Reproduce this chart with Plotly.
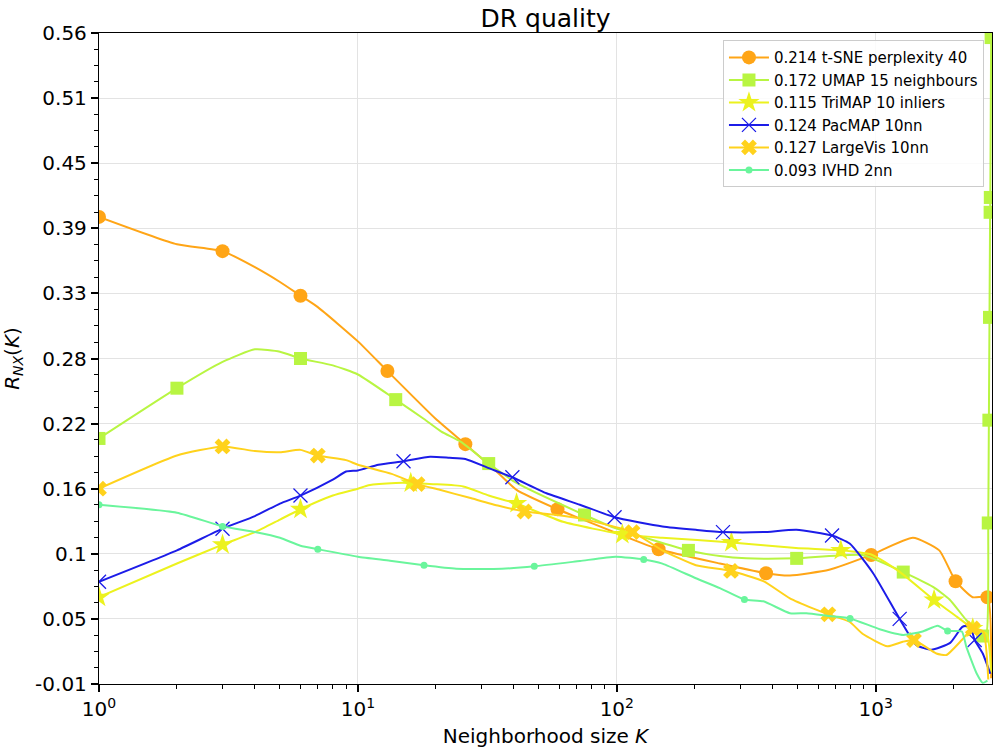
import numpy as np
import plotly.graph_objects as go

# neighbourhood sizes K and R_NX(K), one set per method
tsne_k = [1, 2, 3, 4, 5, 6, 7, 10, 13, 20, 26, 34, 41, 59, 72, 100, 145, 250, 377, 466, 661, 960, 1392, 1759, 2034, 2366, 2700, 2790]
tsne_r = [0.399, 0.375, 0.369, 0.355, 0.342, 0.330, 0.320, 0.290, 0.264, 0.222, 0.200, 0.177, 0.160, 0.143, 0.135, 0.122, 0.108, 0.0955, 0.087, 0.085, 0.090, 0.103, 0.118, 0.107, 0.080, 0.066, 0.066, -0.005]
tsne_marks = [0, 2, 5, 8, 10, 13, 16, 18, 21, 24, 26]

umap_k = [1, 2, 3, 4, 5, 6, 8, 10, 14, 18, 21, 25, 32, 41, 75, 100, 189, 250, 316, 495, 890, 1277, 1664, 1928, 2237, 2589, 2680, 2720, 2735, 2750, 2765, 2770, 2790, 2800]
umap_r = [0.205, 0.249, 0.272, 0.283, 0.281, 0.275, 0.269, 0.261, 0.239, 0.222, 0.211, 0.202, 0.183, 0.166, 0.138, 0.126, 0.107, 0.102, 0.100, 0.100, 0.103, 0.088, 0.075, 0.064, 0.046, 0.032, 0.035, 0.131, 0.221, 0.311, 0.403, 0.416, 0.556, 0.62]
umap_marks = [0, 1, 5, 8, 12, 14, 16, 19, 21, 25, 27, 28, 29, 30, 31, 32]

trimap_k = [1, 2, 3, 4, 5, 6, 8, 10, 11, 14, 16, 19.5, 25.5, 32, 41, 62, 105, 150, 277, 492, 733, 970, 1240, 1680, 2055, 2370, 2680, 2790]
trimap_r = [0.066, 0.0955, 0.112, 0.123, 0.134, 0.143, 0.155, 0.161, 0.164, 0.166, 0.166, 0.165, 0.163, 0.155, 0.148, 0.132, 0.121, 0.118, 0.114, 0.109, 0.107, 0.103, 0.088, 0.0636, 0.049, 0.0387, 0.034, 0.0]
trimap_marks = [0, 2, 5, 10, 14, 16, 18, 20, 23, 25]

pacmap_k = [1, 2, 3, 4, 5, 6, 8, 9, 10, 12, 15, 19, 22.6, 26, 32, 39.5, 53.5, 72, 98, 150, 202, 257, 368, 494, 678, 793, 977, 1237, 1437, 1640, 1938, 2160, 2310, 2410, 2590, 2770]
pacmap_r = [0.0795, 0.107, 0.126, 0.137, 0.148, 0.155, 0.169, 0.176, 0.177, 0.182, 0.185, 0.189, 0.188, 0.187, 0.179, 0.171, 0.157, 0.147, 0.136, 0.128, 0.125, 0.123, 0.123, 0.125, 0.120, 0.113, 0.087, 0.047, 0.024, 0.020, 0.026, 0.040, 0.041, 0.0285, 0.0167, -0.001]
pacmap_marks = [0, 2, 5, 10, 15, 18, 21, 24, 27, 33]

largevis_k = [1, 2, 3, 4, 5, 6, 7, 9, 10, 13.5, 17, 20.7, 27, 35, 44, 58.5, 72, 115, 150, 202, 276, 368, 466, 575, 656, 792, 889, 1110, 1272, 1405, 1714, 1875, 2150, 2370, 2600, 2720]
largevis_r = [0.161, 0.190, 0.198, 0.194, 0.193, 0.195, 0.190, 0.186, 0.182, 0.174, 0.165, 0.160, 0.153, 0.146, 0.141, 0.138, 0.135, 0.123, 0.107, 0.094, 0.089, 0.080, 0.065, 0.056, 0.051, 0.0445, 0.034, 0.023, 0.027, 0.0285, 0.0167, 0.0154, 0.0285, 0.0387, 0.036, -0.006]
largevis_marks = [0, 2, 6, 10, 14, 17, 20, 24, 29, 33]

ivhd_k = [1, 2, 3, 4, 5, 6, 7, 10, 13.3, 18, 24, 36, 48, 72, 99, 127, 150, 202, 250, 311, 368, 466, 540, 661, 796, 1035, 1278, 1516, 1735, 1895, 2150, 2237, 2451, 2591, 2700]
ivhd_r = [0.147, 0.140, 0.128, 0.123, 0.118, 0.111, 0.108, 0.1015, 0.098, 0.094, 0.091, 0.091, 0.093, 0.0977, 0.1015, 0.099, 0.0954, 0.0826, 0.074, 0.064, 0.0624, 0.052, 0.052, 0.0495, 0.0474, 0.038, 0.033, 0.036, 0.041, 0.0365, 0.036, 0.0227, -0.0006, -0.009, -0.007]
ivhd_marks = [0, 2, 6, 9, 12, 15, 19, 24, 29]

names = ["0.214 t-SNE perplexity 40", "0.172 UMAP 15 neighbours", "0.115 TriMAP 10 inliers",
         "0.124 PacMAP 10nn", "0.127 LargeVis 10nn", "0.093 IVHD 2nn"]

ytick_vals = np.linspace(-0.01, 0.56, 11)
ytick_text = ["-0.01", "0.05", "0.1", "0.16", "0.22", "0.28", "0.33", "0.39", "0.45", "0.51", "0.56"]
xtick_vals = [1, 10, 100, 1000]
xtick_text = ["10<sup>0</sup>", "10<sup>1</sup>", "10<sup>2</sup>", "10<sup>3</sup>"]

series = [
    (tsne_k, tsne_r, tsne_marks, "#FFA516", dict(symbol="circle", size=14)),
    (umap_k, umap_r, umap_marks, "#B8F542", dict(symbol="square", size=13)),
    (trimap_k, trimap_r, trimap_marks, "#ECF21E", dict(symbol="star", size=16)),
    (pacmap_k, pacmap_r, pacmap_marks, "#1C1CE8", dict(symbol="x-thin", size=14, line=dict(width=1.3, color="#1C1CE8"))),
    (largevis_k, largevis_r, largevis_marks, "#FFD21C", dict(symbol="x", size=14)),
    (ivhd_k, ivhd_r, ivhd_marks, "#6AF59C", dict(symbol="circle", size=7)),
]

fig = go.Figure()

# legend-only entries (line + marker)
for (k, r, marks, color, mk), name in zip(series, names):
    fig.add_trace(go.Scatter(x=[None], y=[None], mode="lines+markers", name=name,
                             line=dict(color=color, width=2), marker=dict(color=color, **mk),
                             legendgroup=name))

for (k, r, marks, color, mk), name in zip(series, names):
    fig.add_trace(go.Scatter(x=k, y=r, mode="lines",
                             line=dict(color=color, width=2, shape="spline", smoothing=0.5),
                             showlegend=False, legendgroup=name, hoverinfo="skip"))
    fig.add_trace(go.Scatter(x=[k[i] for i in marks], y=[r[i] for i in marks], mode="markers",
                             marker=dict(color=color, **mk), showlegend=False, legendgroup=name))

axis_common = dict(showline=True, linecolor="black", linewidth=1.3, mirror=True,
                   gridcolor="#E3E3E3", gridwidth=1, ticks="outside", tickcolor="black",
                   tickwidth=1.5, ticklen=7, zeroline=False, automargin=False,
                   tickfont=dict(family="DejaVu Sans", size=20, color="black"))

fig.update_layout(
    width=998, height=754,
    margin=dict(l=99, r=6, t=33, b=70),
    paper_bgcolor="white", plot_bgcolor="white",
    font=dict(family="DejaVu Sans", color="black"),
    title=dict(text="DR quality", x=0.5, xref="paper", xanchor="center", y=0.976, yanchor="middle",
               font=dict(size=25, color="black")),
    legend=dict(x=0.991, y=0.989, xanchor="right", yanchor="top", tracegroupgap=0,
                bgcolor="rgba(255,255,255,0.85)", bordercolor="#CCCCCC", borderwidth=1,
                font=dict(size=15, color="black"), itemwidth=40),
    xaxis=dict(type="log", range=[0, 3.449], tickvals=xtick_vals, ticktext=xtick_text,
               title=dict(text="Neighborhood size <i>K</i>", font=dict(size=20), standoff=8),
               minor=dict(tickvals=[m * 10 ** d for d in range(4) for m in range(2, 10)],
                          ticks="outside", ticklen=4, tickwidth=1, tickcolor="black", showgrid=False),
               **axis_common),
    yaxis=dict(range=[-0.01, 0.56], tickvals=ytick_vals, ticktext=ytick_text,
               title=dict(text="<i>R</i><sub><i>NX</i></sub>(<i>K</i>)", font=dict(size=20), standoff=10),
               minor=dict(tickvals=np.linspace(-0.01, 0.56, 41), ticks="outside", ticklen=4,
                          tickwidth=1, tickcolor="black", showgrid=False),
               **axis_common),
)

# the page body has a default 8px margin; drop it so the figure sits at (0, 0)
fig.write_html("out.html", config={"displayModeBar": False},
               post_script="document.body.style.margin='0';")
